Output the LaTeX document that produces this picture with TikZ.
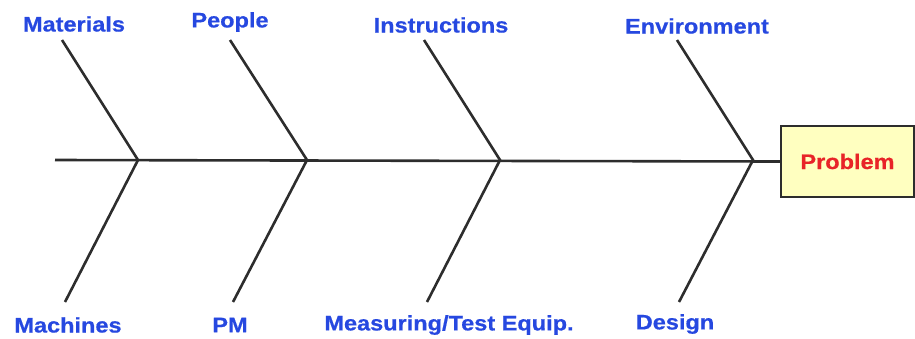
\documentclass[tikz,border=0pt]{standalone}
\usepackage{fontspec}
\newfontfamily\lblfont[FakeStretch=1.12,FakeBold=0.6]{Liberation Sans Bold}
\definecolor{lblblue}{RGB}{38,72,224}
\definecolor{probred}{RGB}{232,36,40}
\definecolor{boxfill}{RGB}{255,255,192}
\definecolor{linegray}{RGB}{45,45,45}
\begin{document}
\begin{tikzpicture}[x=1pt,y=-1pt,
  lbl/.style={font=\lblfont\fontsize{21}{25}\selectfont, text=lblblue, inner sep=0pt},
  bone/.style={draw=linegray, line width=2.6pt},
  probbox/.style={draw=linegray, line width=2pt, fill=boxfill, minimum width=133pt, minimum height=71pt, inner sep=0pt, font=\lblfont\fontsize{21}{25}\selectfont, text=probred}]
\useasboundingbox (0,0) rectangle (915,338);
% problem box
\node[probbox, anchor=north west] (prob) at (780,125) {Problem};
% spine
\coordinate (tail) at (55,160);
\coordinate (j1) at (138,160);
\coordinate (j2) at (307,160);
\coordinate (j3) at (500,160);
\coordinate (j4) at (753,160);
\draw[bone] (tail) -- (prob.west);
% top ends
\coordinate (t1) at (62,40);
\coordinate (t2) at (230,40);
\coordinate (t3) at (424,40);
\coordinate (t4) at (677,40);
% bottom ends
\coordinate (b1) at (65,302);
\coordinate (b2) at (233,302);
\coordinate (b3) at (427,302);
\coordinate (b4) at (679,302);
\draw[bone] (t1) -- (j1) -- (b1);
\draw[bone] (t2) -- (j2) -- (b2);
\draw[bone] (t3) -- (j3) -- (b3);
\draw[bone] (t4) -- (j4) -- (b4);
% labels
\node[lbl] (materials) at (74,24) {Materials};
\node[lbl] (people) at (230,22) {People};
\node[lbl] (instr) at (441,25) {Instructions};
\node[lbl] (env) at (697,26) {Environment};
\node[lbl] (machines) at (68,325) {Machines};
\node[lbl] (pm) at (230,325) {PM};
\node[lbl] (meas) at (449,325) {Measuring/Test Equip.};
\node[lbl] (design) at (675,324) {Design};
\end{tikzpicture}
\end{document}
